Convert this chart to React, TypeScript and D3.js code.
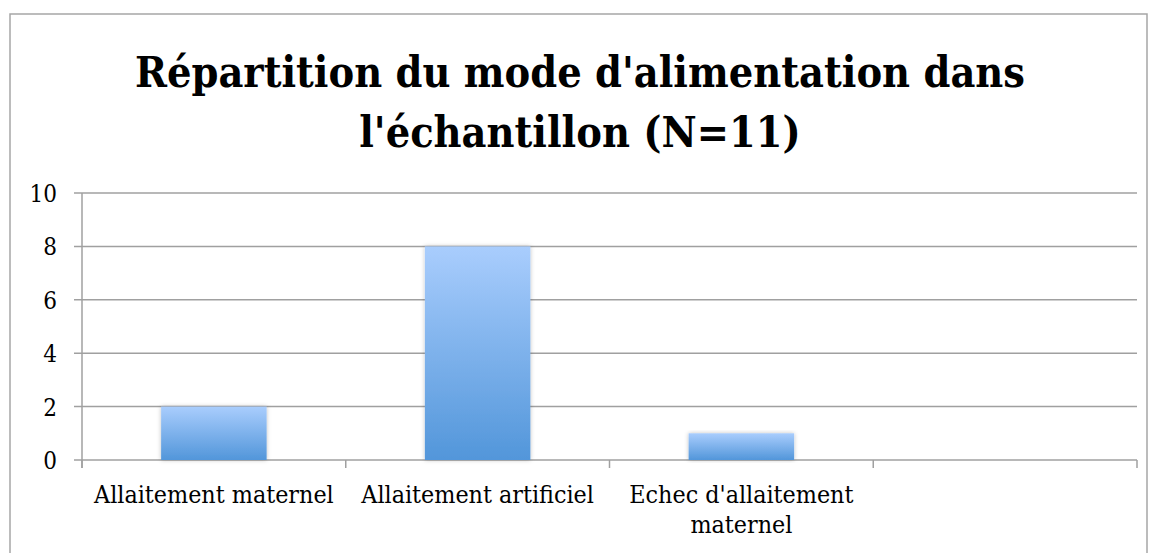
import React from "react";
import * as d3 from "d3";

const categories: string[][] = [
  ["Allaitement maternel"],
  ["Allaitement artificiel"],
  ["Echec d'allaitement", "maternel"],
  [""],
];
const values: (number | null)[] = [2, 8, 1, null];
const yTicks: number[] = [0, 2, 4, 6, 8, 10];
const titleLines: string[] = [
  "Répartition du mode d'alimentation dans",
  "l'échantillon (N=11)",
];

const W = 1158;
const H = 553;
const left = 82;
const right = 1137;
const top = 193;
const bottom = 460;
const FONT = "'DejaVu Serif Condensed', 'Liberation Serif', serif";

export default function App() {
  const x = d3
    .scaleBand<number>()
    .domain(categories.map((_, i) => i))
    .range([left, right])
    .paddingInner(0.6)
    .paddingOuter(0.3);
  const step = (right - left) / categories.length;
  const y = d3.scaleLinear().domain([0, 10]).range([bottom, top]);
  const grid = "#a0a0a0";

  return (
    <div style={{ position: "absolute", left: 0, top: 0 }}>
      <svg width={W} height={H} style={{ display: "block" }}>
        <defs>
          <linearGradient id="barGrad" x1="0" y1="0" x2="0" y2="1">
            <stop offset="0%" stopColor="#a9cdfd" />
            <stop offset="100%" stopColor="#5296da" />
          </linearGradient>
          <filter id="shadow" x="-10%" y="-10%" width="120%" height="120%">
            <feDropShadow dx="0" dy="0" stdDeviation="2" floodColor="#000" floodOpacity="0.25" />
          </filter>
        </defs>
        <rect x={0} y={0} width={W} height={H} fill="#fff" />
        <rect x={10} y={14} width={1137} height={560} fill="none" stroke="#a6a6a6" strokeWidth={1.5} />
        {titleLines.map((t, i) => (
          <text
            key={i}
            x={580}
            y={87 + i * 60}
            textAnchor="middle"
            fontFamily={FONT}
            fontWeight="bold"
            fontSize={42.8}
            fill="#000"
          >
            {t}
          </text>
        ))}
        {yTicks.map((t) => (
          <g key={t}>
            <line x1={74} x2={right} y1={y(t)} y2={y(t)} stroke={grid} strokeWidth={1.5} />
            <text
              x={57}
              y={y(t) + 9}
              textAnchor="end"
              fontFamily={FONT}
              fontSize={24}
              fill="#000"
            >
              {t}
            </text>
          </g>
        ))}
        <line x1={left} x2={left} y1={top} y2={bottom + 8} stroke={grid} strokeWidth={1.5} />
        {d3.range(categories.length + 1).map((i) => (
          <line
            key={i}
            x1={left + i * step}
            x2={left + i * step}
            y1={bottom}
            y2={bottom + 8}
            stroke={grid}
            strokeWidth={1.5}
          />
        ))}
        {values.map((v, i) =>
          v == null ? null : (
            <rect
              key={i}
              x={x(i)!}
              y={y(v)}
              width={x.bandwidth()}
              height={bottom - y(v)}
              fill="url(#barGrad)"
              filter="url(#shadow)"
            />
          )
        )}
        {categories.map((lines, i) =>
          lines.map((l, j) => (
            <text
              key={i + "-" + j}
              x={left + (i + 0.5) * step}
              y={503 + j * 30}
              textAnchor="middle"
              fontFamily={FONT}
              fontSize={24.8}
              fill="#000"
            >
              {l}
            </text>
          ))
        )}
      </svg>
    </div>
  );
}
